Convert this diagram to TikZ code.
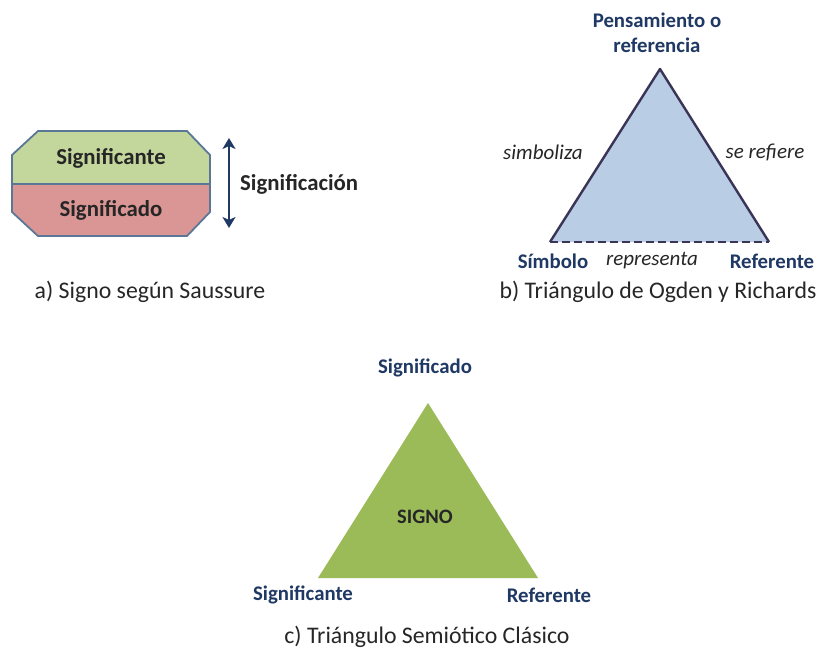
\documentclass[tikz,border=0pt]{standalone}
\usepackage{fontspec}
\setmainfont{Carlito}
\usetikzlibrary{arrows.meta}
\definecolor{navy}{HTML}{1F3864}
\definecolor{boxedge}{HTML}{5A7896}
\definecolor{topfill}{HTML}{C3D69B}
\definecolor{botfill}{HTML}{D99694}
\definecolor{bluefill}{HTML}{B9CDE5}
\definecolor{triedge}{HTML}{3A3457}
\definecolor{greenfill}{HTML}{9BBB59}
\tikzset{
  lbl/.style={font=\fontsize{20.8}{25}\selectfont\bfseries, text=navy, inner sep=0pt},
  rel/.style={font=\fontsize{21}{24}\selectfont\itshape, text=black!85, inner sep=0pt},
  captxt/.style={font=\fontsize{23.8}{28}\selectfont, text=black!85, inner sep=0pt},
  boxtxt/.style={font=\fontsize{22.8}{26}\selectfont\bfseries, text=black!85, inner sep=0pt},
}
\begin{document}
\begin{tikzpicture}[x=1pt,y=-1pt]
\useasboundingbox (0,0) rectangle (817,657);
\fill[white] (0,0) rectangle (817,657);

% a) Saussure's sign: chamfered box split in two
\fill[topfill] (38,131) -- (187,131) -- (210,155) -- (210,184) -- (12,184) -- (12,155) -- cycle;
\fill[botfill] (12,184) -- (210,184) -- (210,212) -- (187,236) -- (38,236) -- (12,212) -- cycle;
\draw[boxedge, line width=1.8pt, line join=round]
  (38,131) -- (187,131) -- (210,155) -- (210,212) -- (187,236) -- (38,236) -- (12,212) -- (12,155) -- cycle;
\draw[boxedge, line width=1.8pt] (12,184) -- (210,184);
\node[boxtxt] (ste) at (111,158) {Significante};
\node[boxtxt] (sdo) at (111,210) {Significado};
\coordinate (atop) at (229,138);
\coordinate (abot) at (229,228);
\draw[navy, line width=2.8pt, {Stealth[length=11pt,width=13pt,inset=3pt]}-{Stealth[length=11pt,width=13pt,inset=3pt]}] (atop) -- (abot);
\node[boxtxt, anchor=west] (sig) at (240,184) {Significación};
\node[captxt] (capa) at (150,292) {a) Signo según Saussure};

% b) Ogden and Richards' triangle
\coordinate (pr) at (660,69);
\coordinate (sy) at (550,242);
\coordinate (re) at (769,242);
\fill[bluefill] (pr) -- (re) -- (sy) -- cycle;
\draw[triedge, line width=2.4pt, line join=round] (sy) -- (pr) -- (re);
\draw[triedge, line width=2.4pt, dash pattern=on 8pt off 4pt] (sy) -- (re);
\node[lbl, align=center] (pens) at (657,33) {Pensamiento o\\referencia};
\node[rel] (simb) at (543,152) {simboliza};
\node[rel] (refi) at (765,152) {se refiere};
\node[lbl] (simbolo) at (553,261) {Símbolo};
\node[rel] (repr) at (652,261) {representa};
\node[lbl] (refb) at (772,261) {Referente};
\node[captxt] (capb) at (658,292) {b) Triángulo de Ogden y Richards};

% c) Classical semiotic triangle
\coordinate (ca) at (428,403);
\coordinate (cl) at (318,578);
\coordinate (cr) at (538,578);
\fill[greenfill] (ca) -- (cr) -- (cl) -- cycle;
\node[boxtxt, font=\fontsize{20.5}{24}\selectfont\bfseries] (signo) at (425,517) {SIGNO};
\node[lbl] (sdoc) at (425,368) {Significado};
\node[lbl] (stec) at (303,595) {Significante};
\node[lbl] (refc) at (549,595) {Referente};
\node[captxt] (capc) at (427,637) {c) Triángulo Semiótico Clásico};
\end{tikzpicture}
\end{document}
